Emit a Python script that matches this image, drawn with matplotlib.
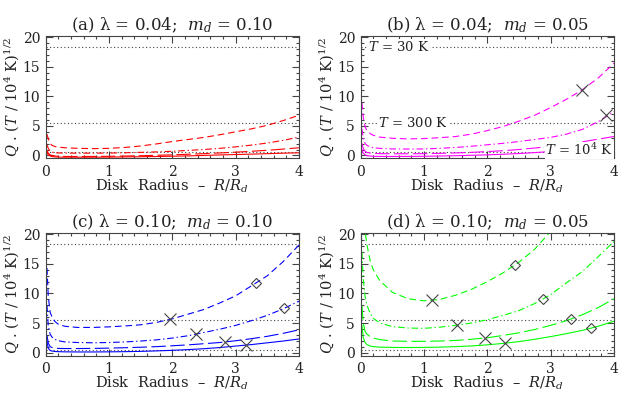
import matplotlib
matplotlib.use('Agg')
import matplotlib.pyplot as plt
from matplotlib.ticker import MultipleLocator

plt.rcParams['font.family'] = 'DejaVu Serif'
plt.rcParams['mathtext.fontset'] = 'dejavuserif'

# radius grid (R/R_d) at which the curves were read
R = [0.02, 0.04, 0.07, 0.1, 0.15, 0.2, 0.3, 0.5, 0.75, 1.0, 1.25, 1.5,
     1.75, 2.0, 2.25, 2.5, 2.75, 3.0, 3.25, 3.5, 3.75, 4.0]

# (a) lambda=0.04, m_d=0.10
qa_dash = [3.6, 2.8, 2.0, 1.7, 1.5, 1.4, 1.3, 1.2, 1.15, 1.2, 1.35, 1.6,
           1.95, 2.35, 2.7, 3.05, 3.5, 4.0, 4.5, 5.1, 5.9, 6.8]
qa_dashdot = [1.8, 1.2, 0.7, 0.55, 0.45, 0.42, 0.4, 0.38, 0.38, 0.4, 0.45, 0.52,
              0.6, 0.7, 0.85, 1.0, 1.2, 1.45, 1.75, 2.1, 2.55, 3.1]
qa_long = [0.9, 0.4, 0.1, 0.0, -0.1, -0.15, -0.17, -0.18, -0.17, -0.15, -0.1, -0.05,
           0.02, 0.1, 0.2, 0.3, 0.42, 0.55, 0.7, 0.87, 1.07, 1.3]
qa_solid = [0.5, 0.1, -0.1, -0.2, -0.25, -0.28, -0.3, -0.3, -0.3, -0.28, -0.25, -0.22,
            -0.18, -0.13, -0.08, 0.0, 0.08, 0.15, 0.22, 0.3, 0.38, 0.45]

# (b) lambda=0.04, m_d=0.05
qb_dash = [8.9, 6.5, 4.8, 4.2, 3.7, 3.4, 3.1, 2.9, 2.8, 2.85, 3.0, 3.2,
           3.6, 4.2, 4.9, 5.8, 6.8, 8.1, 9.5, 11.1, 13.1, 15.6]
qb_dashdot = [4.5, 3.0, 2.0, 1.7, 1.45, 1.3, 1.2, 1.1, 1.08, 1.1, 1.2, 1.35,
              1.55, 1.8, 2.05, 2.35, 2.7, 3.05, 3.6, 4.4, 5.7, 7.4]
qb_long = [2.0, 1.2, 0.7, 0.5, 0.4, 0.35, 0.3, 0.28, 0.28, 0.3, 0.35, 0.42,
           0.52, 0.65, 0.8, 1.0, 1.25, 1.55, 1.9, 2.3, 2.75, 3.2]
qb_solid = [1.0, 0.4, 0.1, -0.05, -0.1, -0.15, -0.17, -0.18, -0.17, -0.15, -0.1, -0.05,
            0.02, 0.1, 0.2, 0.32, 0.48, 0.65, 0.85, 1.1, 1.4, 1.7]

# (c) lambda=0.10, m_d=0.10
qc_dash = [14.3, 9.5, 6.8, 6.0, 5.2, 4.8, 4.45, 4.25, 4.25, 4.35, 4.5, 4.7,
           5.1, 5.7, 6.5, 7.3, 8.4, 9.6, 11.3, 13.0, 15.4, 18.2]
qc_dashdot = [8.0, 4.5, 3.1, 2.6, 2.2, 2.0, 1.8, 1.7, 1.65, 1.7, 1.8, 1.95,
              2.15, 2.45, 2.85, 3.4, 3.95, 4.6, 5.4, 6.3, 7.4, 8.7]
qc_long = [2.9, 1.6, 1.0, 0.85, 0.75, 0.7, 0.68, 0.68, 0.7, 0.75, 0.82, 0.9,
           1.0, 1.15, 1.3, 1.5, 1.7, 2.0, 2.35, 2.75, 3.25, 3.85]
qc_solid = [1.8, 0.75, 0.35, 0.25, 0.18, 0.15, 0.12, 0.1, 0.1, 0.12, 0.15, 0.2,
            0.28, 0.38, 0.5, 0.65, 0.85, 1.1, 1.35, 1.65, 1.95, 2.3]

# (d) lambda=0.10, m_d=0.05
qd_dash = [45.0, 28.0, 20.5, 18.2, 15.5, 14.0, 12.2, 10.2, 9.1, 8.75, 9.0, 9.7,
           10.7, 12.0, 13.5, 15.3, 17.5, 20.5, 24.0, 28.0, 33.0, 39.0]
qd_dashdot = [17.0, 12.5, 9.5, 8.0, 6.6, 5.8, 5.0, 4.4, 4.15, 4.1, 4.3, 4.6,
              5.0, 5.55, 6.3, 7.1, 8.3, 9.8, 11.8, 13.7, 16.2, 18.8]
qd_long = [8.0, 5.0, 3.6, 3.1, 2.7, 2.45, 2.2, 1.95, 1.9, 1.9, 1.95, 2.05,
           2.25, 2.5, 2.9, 3.35, 3.9, 4.6, 5.4, 6.4, 7.6, 9.1]
qd_solid = [4.6, 2.6, 1.7, 1.35, 1.1, 1.0, 0.92, 0.87, 0.85, 0.87, 0.92, 1.0,
            1.12, 1.3, 1.55, 1.85, 2.25, 2.7, 3.2, 3.75, 4.45, 5.3]

# crosses and diamonds marked on the curves
xb_cross = [3.49, 3.88]
yb_cross = [11.0, 6.8]
xc_cross = [1.96, 2.38, 2.83, 3.16]
yc_cross = [5.6, 3.2, 1.76, 1.3]
xc_diam = [3.32, 3.77]
yc_diam = [11.8, 7.5]
xd_cross = [1.12, 1.52, 1.96, 2.28]
yd_cross = [8.85, 4.6, 2.5, 1.6]
xd_diam = [2.44, 2.88, 3.32, 3.64]
yd_diam = [14.9, 9.1, 5.65, 4.15]

# temperature reference levels
t_levels = [18.4, 5.5, 0.5]
t_labels = ['$T$ = 30 K', '$T$ = 300 K', '$T$ = 10$^4$ K']

titles = [r'(a) λ = 0.04;  $m_d$ = 0.10', r'(b) λ = 0.04;  $m_d$ = 0.05',
          r'(c) λ = 0.10;  $m_d$ = 0.10', r'(d) λ = 0.10;  $m_d$ = 0.05']
colors = ['#ff0000', '#ff00ff', '#0000ff', '#00ff00']
curves = [[qa_dash, qa_dashdot, qa_long, qa_solid],
          [qb_dash, qb_dashdot, qb_long, qb_solid],
          [qc_dash, qc_dashdot, qc_long, qc_solid],
          [qd_dash, qd_dashdot, qd_long, qd_solid]]
styles = [(0, (6, 3.5)), (0, (6, 2.5, 1.2, 2.5)), (0, (13, 4)), '-']

fig = plt.figure(figsize=(6.29, 3.93), dpi=100)
boxes = [[0.0727, 0.597, 0.4027, 0.312], [0.5734, 0.597, 0.4027, 0.312],
         [0.0727, 0.0954, 0.4027, 0.312], [0.5734, 0.0954, 0.4027, 0.312]]
axes = []
gray = '#444444'
for i in range(4):
    ax = fig.add_axes(boxes[i])
    axes.append(ax)
    for lev in t_levels:
        ax.axhline(lev, color=gray, lw=0.8, ls=(0, (1, 2.2)), zorder=1)
    for q, st in zip(curves[i], styles):
        ax.plot(R, q, color=colors[i], lw=0.8, ls=st, zorder=2)
    ax.set_xlim(0, 4)
    ax.set_ylim(-0.5, 20.25)
    ax.xaxis.set_major_locator(MultipleLocator(1))
    ax.xaxis.set_minor_locator(MultipleLocator(0.2))
    ax.yaxis.set_major_locator(MultipleLocator(5))
    ax.yaxis.set_minor_locator(MultipleLocator(1))
    ax.tick_params(which='both', direction='in', top=True, right=True,
                   color=gray, width=0.8, labelsize=10, labelcolor='#222222')
    ax.tick_params(which='major', length=5)
    ax.tick_params(axis='x', which='major', pad=5)
    ax.tick_params(axis='y', which='major', pad=4)
    ax.tick_params(which='minor', length=2.5)
    for s in ax.spines.values():
        s.set_color(gray)
        s.set_linewidth(0.8)
    ax.set_title(titles[i], fontsize=12, pad=4, color='#222222')
    ax.set_xlabel(r'Disk  Radius  –  $R/R_d$', fontsize=10.5, labelpad=-1, color='#222222')
    ax.set_ylabel(r'$Q$ . ($T$ / 10$^4$ K)$^{1/2}$', fontsize=10.5, labelpad=1, color='#222222')

mk = dict(color=gray, ls='none', zorder=4)
axes[1].plot(xb_cross, yb_cross, marker='x', ms=8, mew=0.8, **mk)
axes[2].plot(xc_cross, yc_cross, marker='x', ms=8, mew=0.8, **mk)
axes[2].plot(xc_diam, yc_diam, marker='D', ms=5, mew=0.8, mfc='none', **mk)
axes[3].plot(xd_cross, yd_cross, marker='x', ms=8, mew=0.8, **mk)
axes[3].plot(xd_diam, yd_diam, marker='D', ms=5, mew=0.8, mfc='none', **mk)

# temperature labels in panel (b)
tx = [0.6, 0.83, 3.99]
tha = ['center', 'center', 'right']
tdy = [0.0, 0.0, 0.35]
for lev, lab, x, ha, dy in zip(t_levels, t_labels, tx, tha, tdy):
    axes[1].text(x, lev + dy, lab, ha=ha, va='center', fontsize=9.5, color='#222222',
                 bbox=dict(facecolor='white', edgecolor='none', pad=0.3), zorder=3)

fig.savefig('out.png', dpi=100)
